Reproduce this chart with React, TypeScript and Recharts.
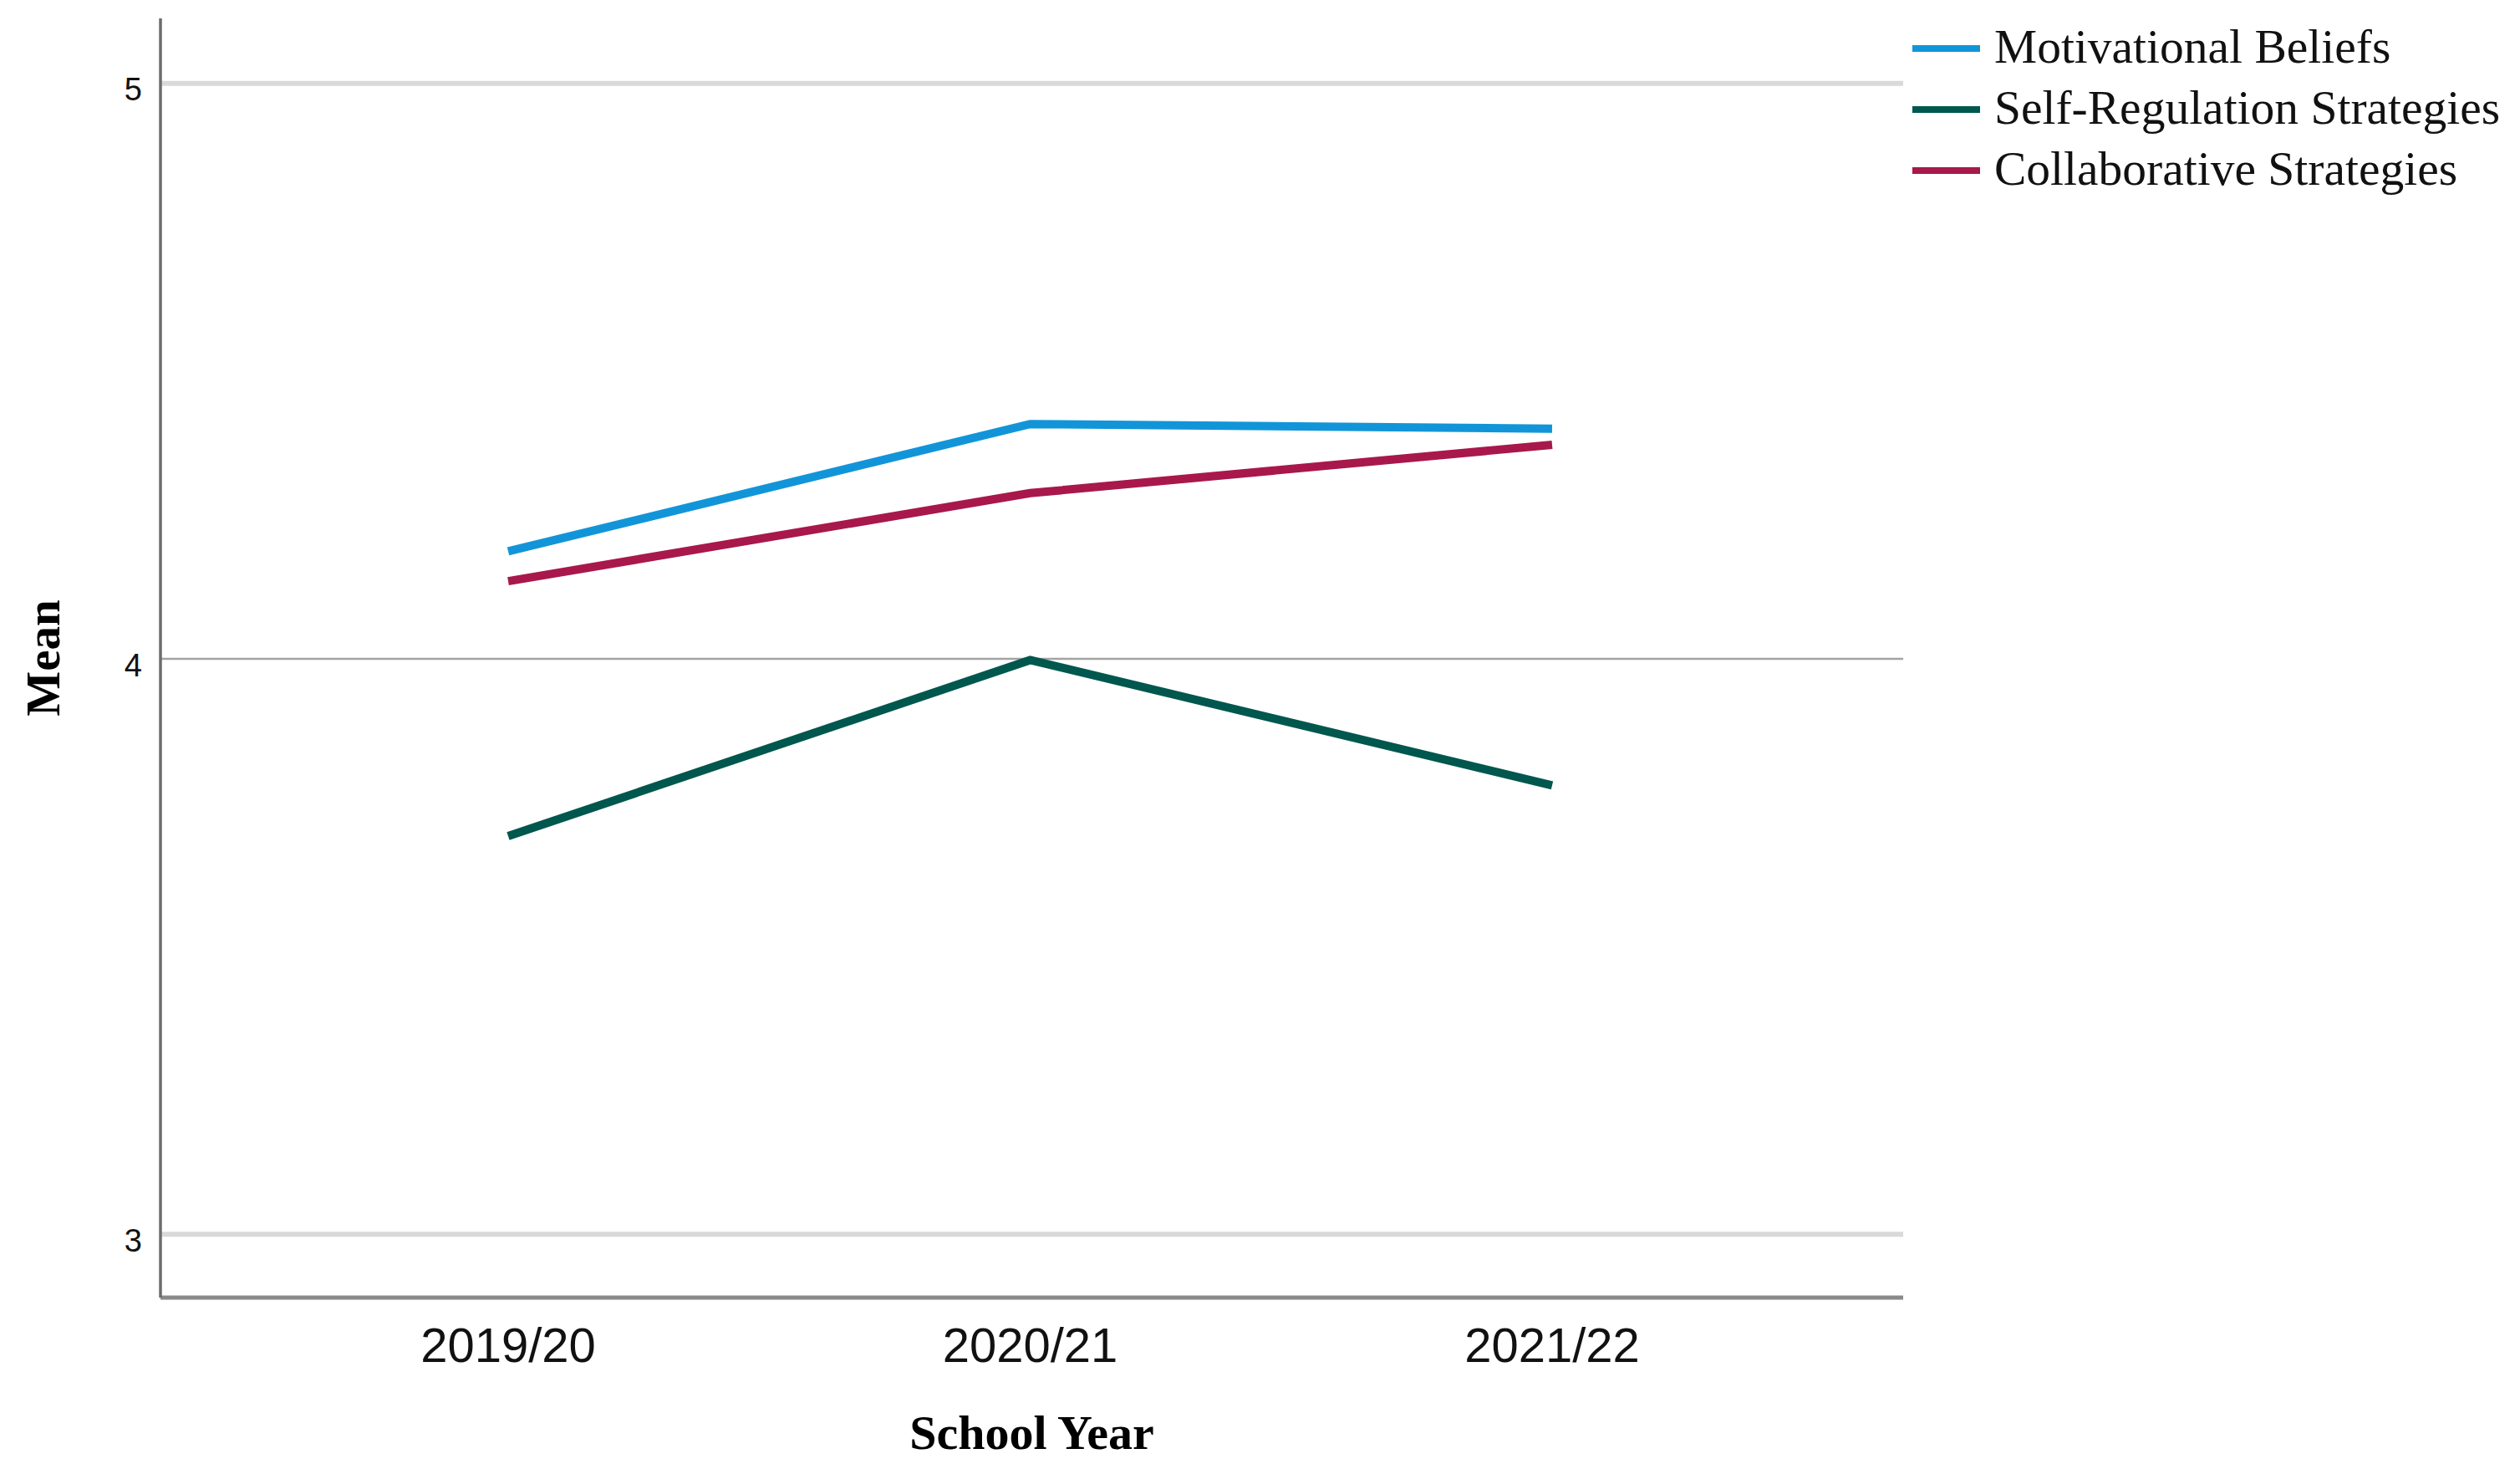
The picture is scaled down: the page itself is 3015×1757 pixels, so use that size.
import React from 'react';
import { LineChart, Line, XAxis, YAxis, ReferenceLine, Legend } from 'recharts';

const categories = ['2019/20', '2020/21', '2021/22'];
const motivationalBeliefs = [4.187, 4.408, 4.4];
const selfRegulation = [3.692, 3.998, 3.78];
const collaborative = [4.135, 4.288, 4.372];
const yTicks = [3, 4, 5];

const seriesNames = ['Motivational Beliefs', 'Self-Regulation Strategies', 'Collaborative Strategies'];
const seriesKeys = ['mb', 'sr', 'cs'];
const seriesColors = ['#1295d8', '#00574e', '#a8184b'];

const data = categories.map((c, i) => ({
  year: c,
  mb: motivationalBeliefs[i],
  sr: selfRegulation[i],
  cs: collaborative[i],
}));

const MeanLabel = (props: any) => {
  const vb = props.viewBox || {};
  const cy = vb.y + vb.height / 2;
  const x = 71;
  return (
    <text
      x={x}
      y={cy}
      transform={`rotate(-90, ${x}, ${cy})`}
      textAnchor="middle"
      fontFamily="'Liberation Serif', serif"
      fontWeight="bold"
      fontSize={57}
      fill="#000"
    >
      Mean
    </text>
  );
};

const LegendContent = () => (
  <div style={{ display: 'flex', flexDirection: 'column' }}>
    {seriesNames.map((name, i) => (
      <div key={name} style={{ height: 73, display: 'flex', alignItems: 'center' }}>
        <div style={{ width: 81, height: 8, background: seriesColors[i], marginRight: 17, marginTop: 4 }} />
        <span style={{ fontFamily: "'Liberation Serif', serif", fontSize: 57.5, color: '#111', whiteSpace: 'nowrap' }}>
          {name}
        </span>
      </div>
    ))}
  </div>
);

export default function App() {
  return (
    <div style={{ position: 'absolute', left: 0, top: 0, background: '#fff' }}>
      <LineChart
        width={3015}
        height={1757}
        data={data}
        margin={{ top: 22, right: 738, bottom: 0, left: 92 }}
      >
        <ReferenceLine y={5} stroke="#d9d9d9" strokeWidth={6} />
        <ReferenceLine y={3} stroke="#d9d9d9" strokeWidth={6} />
        <ReferenceLine y={4} stroke="#a3a3a3" strokeWidth={2.5} />
        <XAxis
          dataKey="year"
          padding={{ left: 416, right: 420 }}
          height={205}
          tickLine={false}
          tickSize={0}
          tickMargin={36}
          axisLine={{ stroke: '#8a8a8a', strokeWidth: 5 }}
          tick={{ fontSize: 58, fill: '#111', fontFamily: "'Liberation Sans', Arial, sans-serif" }}
          label={{
            value: 'School Year',
            position: 'insideBottom',
            offset: 24,
            fontSize: 58,
            fontWeight: 'bold',
            fill: '#000',
            fontFamily: "'Liberation Serif', serif",
          }}
        />
        <YAxis
          width={100}
          domain={[2.89, 5.113]}
          ticks={yTicks}
          type="number"
          allowDataOverflow
          tickLine={false}
          tickSize={0}
          tickMargin={22}
          axisLine={{ stroke: '#6c6c6c', strokeWidth: 3.5 }}
          tick={{ fontSize: 38, fill: '#111', fontFamily: "'Liberation Sans', Arial, sans-serif", dy: 7 }}
          label={<MeanLabel />}
        />
        <Legend
          layout="vertical"
          align="center"
          verticalAlign="middle"
          wrapperStyle={{ left: 2288, top: 19, width: 727 }}
          content={<LegendContent />}
        />
        {seriesKeys.map((k, i) => (
          <Line
            key={k}
            dataKey={k}
            name={seriesNames[i]}
            stroke={seriesColors[i]}
            strokeWidth={10}
            dot={false}
            activeDot={false}
            isAnimationActive={false}
            strokeLinejoin="miter"
          />
        ))}
      </LineChart>
    </div>
  );
}
